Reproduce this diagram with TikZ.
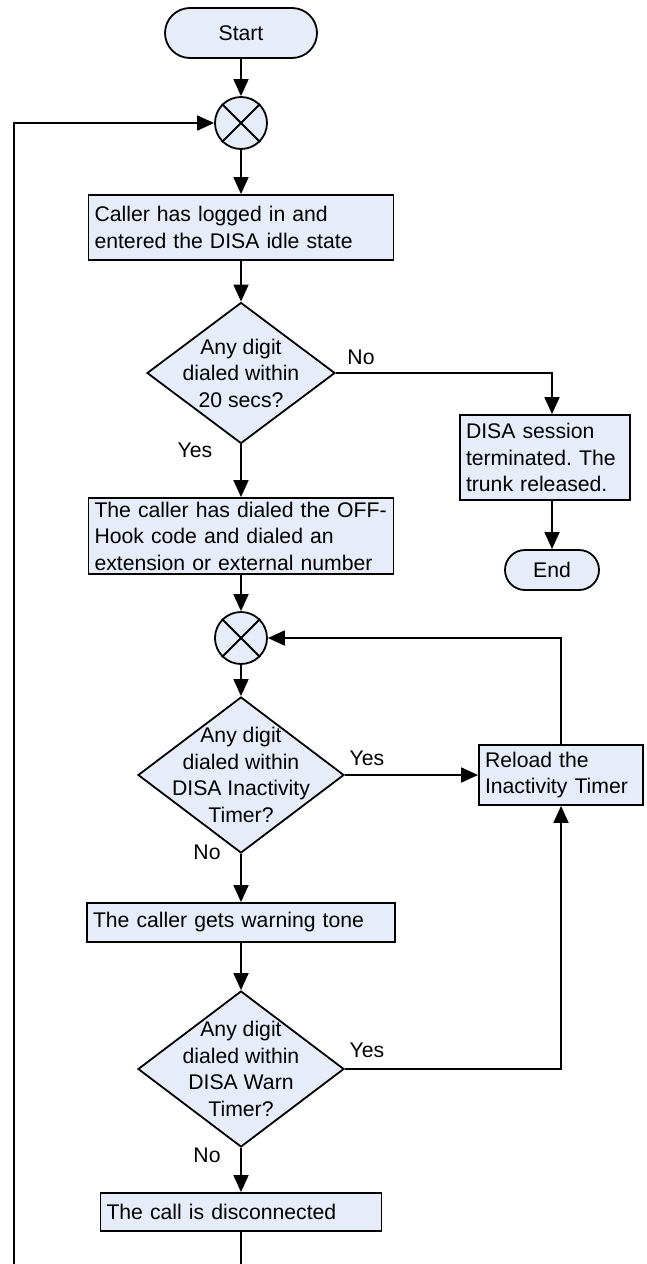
\documentclass[tikz,border=0pt]{standalone}
\usepackage{fontspec}
\setmainfont{Liberation Sans}
\frenchspacing
\usetikzlibrary{arrows.meta,shapes.geometric,shapes.misc}
\definecolor{boxfill}{RGB}{231,237,248}
\tikzset{
  every node/.style={font=\fontsize{21.2}{26.5}\selectfont},
  arr/.style={-{Triangle[length=17pt,width=15pt]}, line width=1.8pt},
  plain/.style={line width=1.8pt},
  stepbox/.style={draw, line width=1.8pt, fill=boxfill, rectangle, align=left, inner xsep=6pt, inner ysep=0pt},
  term/.style={draw, line width=1.8pt, fill=boxfill, rounded rectangle, inner sep=0pt},
  junction/.style={draw, line width=1.8pt, fill=boxfill, circle, minimum size=52pt, inner sep=0pt},
  decision/.style={draw, line width=1.8pt, fill=boxfill, diamond, inner sep=0pt}
}
\begin{document}
\begin{tikzpicture}[x=1pt,y=-1pt]
\useasboundingbox (0,0) rectangle (646,1264);

% login
\node[term, minimum width=152pt, minimum height=50pt] (start) at (241,33) {Start};
\node[junction] (m1) at (241,123) {};
	\draw[plain] (m1.45)--(m1.225) (m1.135)--(m1.-45);
\node[stepbox, text width=293pt, minimum height=65pt] (idle) at (241,227.5) {Caller has logged in and\\entered the DISA idle state};
\node[decision, minimum width=188pt, minimum height=141pt,
	label={[align=center]center:Any digit\\dialed within\\20 secs?}] (d1) at (241,373) {};
	\node (no1) at (361,357) {No};
	\node (yes1) at (195,450) {Yes};

% timeout
\node[stepbox, text width=158pt, minimum height=85pt] (gone) at (545,457.5) {DISA session\\terminated. The\\trunk released.};
\node[term, minimum width=94pt, minimum height=40pt] (end) at (552,570) {End};

% inactivity
\node[stepbox, text width=293pt, minimum height=76pt] (dialed) at (241,536) {The caller has dialed the OFF-\\Hook code and dialed an\\extension or external number};
\node[junction] (m2) at (241,638) {};
	\draw[plain] (m2.45)--(m2.225) (m2.135)--(m2.-45);
\node[decision, minimum width=206pt, minimum height=156pt,
	label={[align=center]center:Any digit\\dialed within\\DISA Inactivity\\Timer?}] (d2) at (241,775) {};
	\node (yes2) at (367,758) {Yes};
	\node (no2) at (207,852) {No};
\node[stepbox, text width=152pt, minimum height=60pt] (reload) at (561,775) {Reload the\\Inactivity Timer};

% warning
\node[stepbox, text width=296pt, minimum height=39pt] (warn) at (241,922.5) {The caller gets warning tone};
\node[decision, minimum width=206pt, minimum height=156pt,
	label={[align=center]center:Any digit\\dialed within\\DISA Warn\\Timer?}] (d3) at (241,1069) {};
	\node (yes3) at (367,1050) {Yes};
	\node (no3) at (207,1155) {No};
\node[stepbox, text width=269pt, minimum height=38pt] (disc) at (241,1212) {The call is disconnected};
\coordinate (back) at (14,1300);

% connectors
\draw[arr] (start) -- (m1);
\draw[arr] (m1) -- (idle);
\draw[arr] (idle) -- (d1);
\draw[arr] (d1) -- (dialed);
\draw[arr] (d1.east) -| (end |- gone.north);
\draw[arr] (end |- gone.south) -- (end);
\draw[arr] (dialed) -- (m2);
\draw[arr] (m2) -- (d2);
\draw[arr] (d2) -- (reload);
\draw[arr] (reload) |- (m2);
\draw[arr] (d2) -- (warn);
\draw[arr] (warn) -- (d3);
\draw[arr] (d3) -| (reload);
\draw[arr] (d3) -- (disc);
\draw[arr] (disc) |- (back) |- (m1);
\end{tikzpicture}
\end{document}
